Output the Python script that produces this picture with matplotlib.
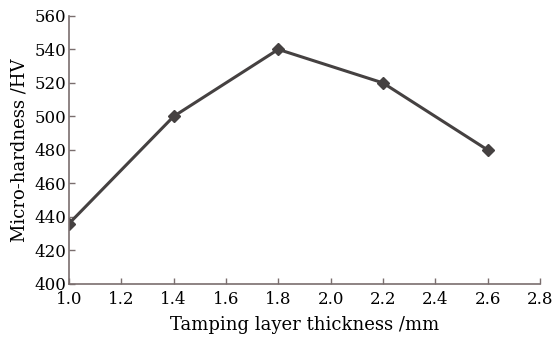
import matplotlib
matplotlib.use('Agg')
import matplotlib.pyplot as plt

thickness = [1.0, 1.4, 1.8, 2.2, 2.6]
hardness = [436, 500, 540, 520, 480]

plt.rcParams['font.family'] = 'DejaVu Serif'
plt.rcParams['font.size'] = 12

fig = plt.figure(figsize=(5.52, 3.38), dpi=100)
ax = fig.add_axes([0.125, 0.16, 0.853, 0.793])

ax.plot(thickness, hardness, color='#454141', lw=2.2, marker='D', ms=6.5,
        markerfacecolor='#454141', markeredgecolor='#454141')

ax.set_xlim(1.0, 2.8)
ax.set_ylim(400, 560)
ax.set_xticks([1.0, 1.2, 1.4, 1.6, 1.8, 2.0, 2.2, 2.4, 2.6, 2.8])
ax.set_yticks(range(400, 561, 20))
ax.xaxis.set_major_formatter(matplotlib.ticker.FormatStrFormatter('%.1f'))

for s in ['top', 'right']:
    ax.spines[s].set_visible(False)
for s in ['left', 'bottom']:
    ax.spines[s].set_color('#7a6e6e')
    ax.spines[s].set_linewidth(1.2)
ax.tick_params(direction='in', length=4, width=1, color='#7a6e6e', labelcolor='#000000')
ax.tick_params(axis='x', pad=5)
ax.tick_params(axis='y', pad=2)

ax.set_xlabel('Tamping layer thickness /mm', fontsize=13, labelpad=6, color='#000000')
ax.set_ylabel('Micro-hardness /HV', fontsize=13, labelpad=4, color='#000000')

fig.savefig('out.png', dpi=100)
